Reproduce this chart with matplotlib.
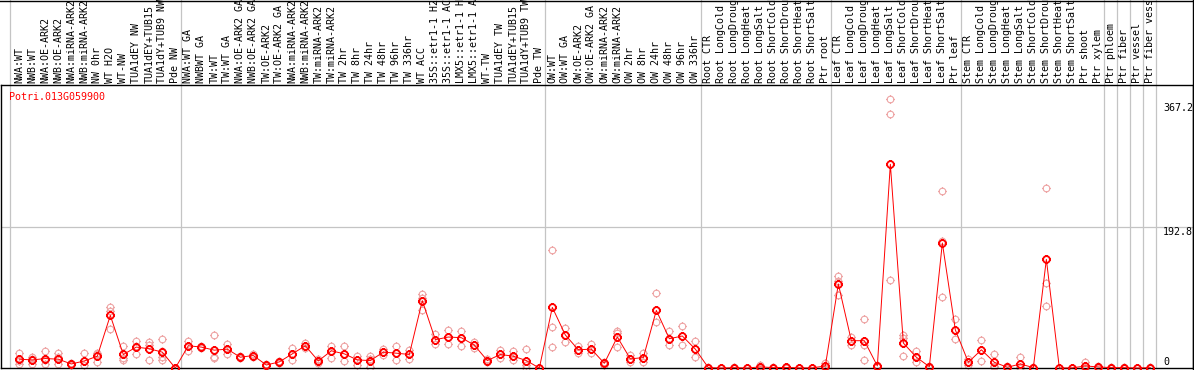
import numpy as np
import matplotlib
matplotlib.use("Agg")
import matplotlib.pyplot as plt
from matplotlib.path import Path
from matplotlib.lines import Line2D
from matplotlib.transforms import blended_transform_factory

gene = "Potri.013G059900"

# sample groups (separated by grey lines)
group_sizes = [13, 28, 12, 10, 10, 11, 1, 1, 1, 1]

labels = [
    "NWA:WT", "NWB:WT", "NWA:OE-ARK2", "NWB:OE-ARK2", "NWA:miRNA-ARK2", "NWB:miRNA-ARK2",
    "NW 0hr", "WT H2O", "WT-NW", "TUA1dEY NW", "TUA1dEY+TUB15", "TUA1dY+TUB9 NW", "Pde NW",
    "NWA:WT GA", "NWBWT GA", "TW:WT", "TW:WT GA", "NWA:OE-ARK2 GA", "NWB:OE-ARK2 GA",
    "TW:OE-ARK2", "TW:OE-ARK2 GA", "NWA:miRNA-ARK2", "NWB:miRNA-ARK2", "TW:miRNA-ARK2",
    "TW:miRNA-ARK2", "TW 2hr", "TW 8hr", "TW 24hr", "TW 48hr", "TW 96hr", "TW 336hr",
    "WT ACC", "35S::etr1-1 H2", "35S::etr1-1 AC", "LMX5::etr1-1 H", "LMX5::etr1-1 A",
    "WT-TW", "TUA1dEY TW", "TUA1dEY+TUB15", "TUA1dY+TUB9 TW", "Pde TW",
    "OW:WT", "OW:WT GA", "OW:OE-ARK2", "OW:OE-ARK2 GA", "OW:miRNA-ARK2", "OW:miRNA-ARK2",
    "OW 2hr", "OW 8hr", "OW 24hr", "OW 48hr", "OW 96hr", "OW 336hr",
    "Root CTR", "Root LongCold", "Root LongDroug", "Root LongHeat", "Root LongSalt",
    "Root ShortCold", "Root ShortDrou", "Root ShortHeat", "Root ShortSalt", "Ptr root",
    "Leaf CTR", "Leaf LongCold", "Leaf LongDroug", "Leaf LongHeat", "Leaf LongSalt",
    "Leaf ShortCold", "Leaf ShortDrou", "Leaf ShortHeat", "Leaf ShortSalt", "Ptr leaf",
    "Stem CTR", "Stem LongCold", "Stem LongDroug", "Stem LongHeat", "Stem LongSalt",
    "Stem ShortCold", "Stem ShortDrou", "Stem ShortHeat", "Stem ShortSalt", "Ptr shoot",
    "Ptr xylem", "Ptr phloem", "Ptr fiber", "Ptr vessel", "Ptr fiber vess",
]

means = [
    12.0, 11.0, 12.9, 12.0, 5.5, 9.6, 16.1, 71.6, 18.4, 28.5, 26.2, 21.6, 0.0,
    30.3, 28.5, 24.3, 25.7, 14.7, 17.0, 4.1, 8.3, 19.3, 30.3, 9.6, 23.4, 19.3, 11.0,
    10.1, 21.6, 20.2, 18.4, 91.8, 38.6, 42.2, 41.3, 31.2, 10.1, 18.4, 16.1, 10.1, 0.0,
    82.6, 45.0, 24.8, 25.7, 6.4, 42.2, 12.4, 14.2, 78.5, 39.9, 43.6, 25.7,
    0.5, 0.0, 0.5, 0.0, 1.5, 0.5, 0.8, 0.2, 0.2, 2.8,
    114.5, 37.2, 37.2, 2.8, 277.6, 34.0, 14.7, 1.8, 170.3, 51.9,
    7.8, 24.8, 7.8, 1.0, 5.5, 0.5, 148.0, 0.0, 0.2, 2.8, 1.4,
    0.5, 0.5, 0.0, 0.5,
]

reps = [
    [21.1, 9.5, 5.5], [14.7, 12.8, 5.5], [22.5, 11.0, 5.5], [21.1, 15.6, 5.5],
    [7.3, 5.5, 4.1], [21.1, 9.6, 4.1], [21.1, 18.4, 8.7], [83.6, 77.1, 53.3],
    [30.3, 14.0, 11.0], [37.2, 30.3, 19.3], [34.9, 32.0, 11.0], [39.5, 22.5, 14.7, 11.0],
    [0, 0, 0],
    [37.2, 30.3, 23.4], [30.3, 28.5, 26.7], [45.4, 14.7, 13.0], [32.6, 25.7, 19.3],
    [16.0, 14.7, 13.5], [19.3, 17.0, 15.0], [5.5, 4.1, 2.8], [10.0, 8.3, 6.9],
    [27.1, 19.3, 11.0], [34.0, 30.3, 27.0], [12.9, 9.6, 6.4], [30.3, 23.4, 13.3],
    [30.3, 19.3, 10.0], [16.5, 11.0, 4.1], [16.0, 12.0, 2.0], [25.7, 21.6, 17.5],
    [29.4, 20.2, 11.0], [24.0, 18.4, 12.0], [100.5, 96.0, 78.5], [46.8, 38.6, 33.0],
    [51.4, 42.2, 33.0], [50.0, 41.3, 30.3], [36.0, 31.2, 27.0], [12.0, 10.1, 8.0],
    [24.0, 18.4, 13.0], [23.4, 16.1, 11.0], [25.7, 4.1, 0.5], [0, 0, 0],
    [160.3, 56.0, 28.5], [54.6, 45.0, 35.4], [29.4, 24.8, 20.0], [33.0, 25.7, 20.2],
    [8.7, 6.4, 4.0], [50.0, 47.7, 29.0], [17.9, 12.4, 8.7], [20.2, 14.2, 8.7],
    [102.8, 78.5, 62.4], [50.0, 39.9, 30.7], [57.8, 43.6, 31.2], [36.3, 25.7, 14.7],
    [1.0, 0.5, 0], [0, 0, 0], [1.5, 0.5, 0], [0.5, 0, 0], [4.0, 1.0, 0],
    [1.5, 0.5, 0], [1.0, 1.0, 0.5], [0.5, 0, 0], [0.5, 0, 0], [7.3, 1.5, 0],
    [125.4, 118.7, 99.5], [42.2, 37.2, 32.0], [67.0, 37.2, 32.0, 11.0], [4.0, 2.8, 2.0],
    [367.2, 345.7, 120.0], [45.4, 40.9, 16.5], [22.5, 14.7, 8.7], [3.0, 1.8, 0.5],
    [241.0, 173.4, 96.4], [66.1, 51.9, 39.5],
    [12.5, 7.8, 4.0], [38.6, 24.8, 9.6], [19.3, 2.3, 1.8], [3.0, 1.0, 0],
    [15.6, 1.0, 0], [1.0, 0.5, 0], [244.8, 116.3, 84.5], [0, 0, 0], [0.5, 0, 0],
    [8.7, 0, 0], [2.8, 1.0, 0.5],
    [1.5, 0, 0], [1.0, 0.5, 0], [0, 0, 0], [1.5, 0, 0],
]

ytick_vals = [0, 192.8, 367.2]
ymax = 385.6

W, H = 1194, 370
mono = "DejaVu Sans Mono"
grey = "#c4c4c4"
pink = "#eea4a4"

# circle marker with four tiny ticks
stubs = Path([(0, 1), (0, 1.3), (0, -1), (0, -1.3), (1, 0), (1.3, 0), (-1, 0), (-1.3, 0)],
             [Path.MOVETO, Path.LINETO] * 4)
ring = Path.make_compound_path(Path.unit_circle(), stubs)

fig = plt.figure(figsize=(W / 100, H / 100), dpi=100)
ax = fig.add_axes([1 / W, 2 / H, 1192 / W, 283 / H])
ax.set_xlim(-1.408, 90.28)
ax.set_ylim(0, ymax)
ax.set_xticks([])
ax.set_yticks([])
for s in ax.spines.values():
    s.set_linewidth(1.0)
    s.set_color("black")

x = np.arange(len(labels))

# group separators, running up through the header
bounds = np.concatenate([[0], np.cumsum(group_sizes)]) - 0.6
bounds[0] = -0.7
for b in bounds:
    ax.axvline(b, ymin=0, ymax=368 / 283, color=grey, lw=0.9, clip_on=False, zorder=0)
ax.axhline(ytick_vals[1], color=grey, lw=0.9, zorder=0)

# replicates
for i, r in enumerate(reps):
    ax.plot([i] * len(r), r, ls="none", marker=ring, ms=6.2, mfc="none",
            mec=pink, mew=0.8, clip_on=False, zorder=2)

# means
ax.plot(x, means, color="red", lw=0.7, zorder=3, clip_on=False)
ax.plot(x, means, ls="none", marker=ring, ms=6.3, mfc="none", mec="red",
        mew=1.3, zorder=4, clip_on=False)

# header labels
trans = blended_transform_factory(ax.transData, ax.transAxes)
for i, lab in enumerate(labels):
    ax.text(i, 1 + 2 / 283, lab[:14], rotation=90, ha="center", va="bottom",
            family=mono, fontsize=7.2, transform=trans)

ax.text(8.3 / 1192, 1 - 15 / 283, gene, color="red", family=mono, fontsize=7.2,
        ha="left", va="baseline", transform=ax.transAxes)

# y labels on the right
tr2 = blended_transform_factory(ax.transAxes, ax.transData)
xr = (1163 - 1) / 1192
ax.annotate("0", xy=(xr, 0), xycoords=tr2, xytext=(0, 2.2), textcoords="offset points",
            ha="left", va="baseline", family=mono, fontsize=7.2)
ax.annotate(f"{ytick_vals[1]}", xy=(xr, ytick_vals[1]), xycoords=tr2, xytext=(0, -0.7),
            textcoords="offset points", ha="left", va="top", family=mono, fontsize=7.2)
ax.annotate(f"{ytick_vals[2]}", xy=(xr, ytick_vals[2]), xycoords=tr2, xytext=(0, -3),
            textcoords="offset points", ha="left", va="top", family=mono, fontsize=7.2)

# frame lines of the header
fig.add_artist(Line2D([1192.5 / W, 1192.5 / W], [0, 1], color="black", lw=1.0))
fig.add_artist(Line2D([0, 1], [369.5 / H, 369.5 / H], color="black", lw=1.0))

fig.savefig("out.png", dpi=100)
